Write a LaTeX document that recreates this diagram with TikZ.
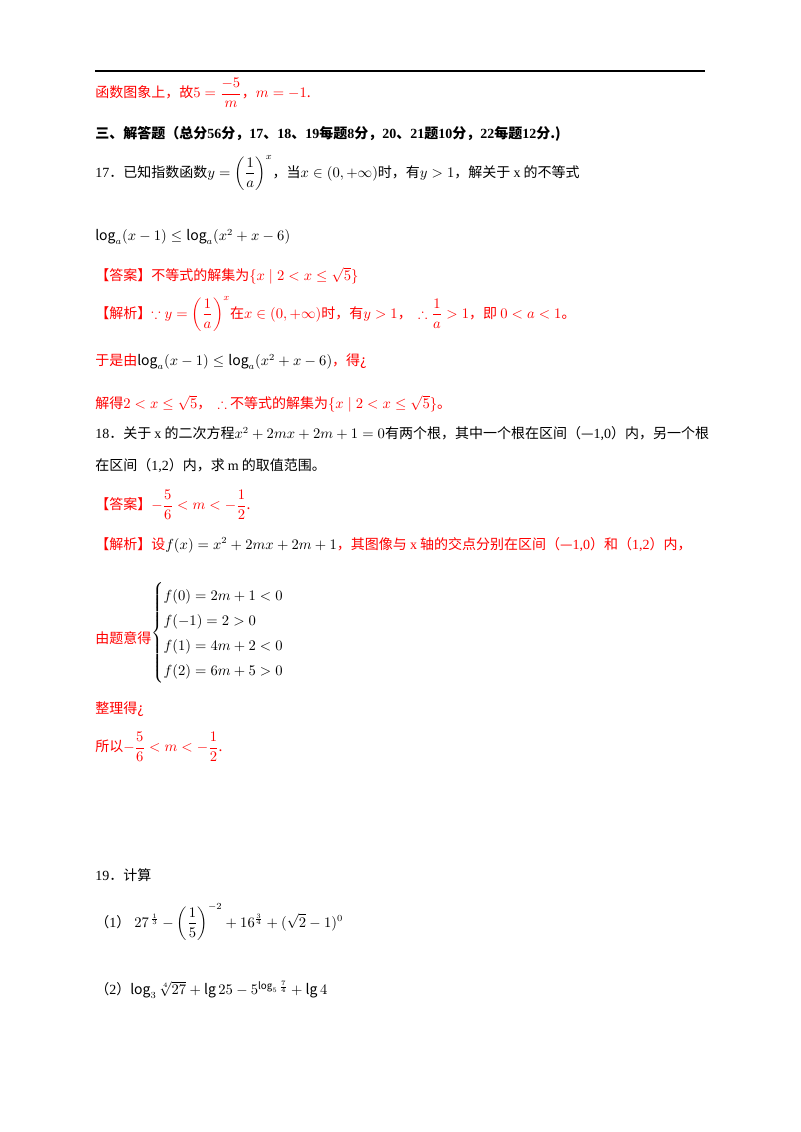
\documentclass[tikz,border=0pt]{standalone}
\usepackage{fontspec}
\usepackage{amsmath,amssymb}
\setmainfont{Noto Sans CJK SC}
\newfontfamily\serifnum{Liberation Serif}
\definecolor{ansred}{RGB}{255,0,0}
\begin{document}
\begin{tikzpicture}[x=0.75pt,y=-0.75pt,
  txt/.style={anchor=west,inner sep=0pt,font=\fontsize{10.5}{13}\selectfont},
  red/.style={txt,text=ansred}]
\useasboundingbox (0,0) rectangle (800,1132);
\draw[line width=1pt] (95,71) -- (705,71);
\node[red] (l1) at (95,93) {函数图象上，故$5=\dfrac{-5}{m}$，$m=-1$.};
\node[txt,font=\fontsize{10.5}{13}\selectfont\bfseries] (h3) at (95,134) {三、解答题（总分{\serifnum 56}分，{\serifnum 17}、{\serifnum 18}、{\serifnum 19}每题{\serifnum 8}分，{\serifnum 20}、{\serifnum 21}题{\serifnum 10}分，{\serifnum 22}每题{\serifnum 12}分.)};
\node[txt] (q17) at (95,173) {{\serifnum 17}．已知指数函数$y=\left(\dfrac{1}{a}\right)^{x}$，当$x\in(0,+\infty)$时，有$y>1$，解关于 {\serifnum x} 的不等式};
\node[txt] (q17b) at (95,237) {$\log_a(x-1)\le\log_a(x^2+x-6)$};
\node[red] (a17) at (95,276) {【答案】不等式的解集为$\{x\mid 2<x\le\sqrt5\}$};
\node[red] (j17) at (95,314) {【解析】$\because y=\left(\dfrac{1}{a}\right)^{x}$在$x\in(0,+\infty)$时，有$y>1$，\ \ $\therefore\dfrac{1}{a}>1$，即 $0<a<1$。};
\node[red] (j17b) at (95,362) {于是由\textcolor{black}{$\log_a(x-1)\le\log_a(x^2+x-6)$}，得¿};
\node[red] (j17c) at (95,404) {解得$2<x\le\sqrt5$，\ \ $\therefore$ 不等式的解集为$\{x\mid 2<x\le\sqrt5\}$。};
\node[txt] (q18) at (95,434) {{\serifnum 18}．关于 {\serifnum x} 的二次方程$x^2+2mx+2m+1=0$有两个根，其中一个根在区间（—{\serifnum 1,0}）内，另一个根};
\node[txt] (q18b) at (95,466) {在区间（{\serifnum 1,2}）内，求 {\serifnum m} 的取值范围。};
\node[red] (a18) at (95,505) {【答案】$-\dfrac{5}{6}<m<-\dfrac{1}{2}$.};
\node[red] (j18) at (95,545) {【解析】设\textcolor{black}{$f(x)=x^2+2mx+2m+1$}，其图像与 {\serifnum x} 轴的交点分别在区间（—{\serifnum 1,0}）和（{\serifnum 1,2}）内，};
\node[red] (j18b) at (95,638) {由题意得};
\node[txt,anchor=west] (sys) at (151,633) {\renewcommand{\arraystretch}{1.45}$\left\{\begin{array}{@{}l}f(0)=2m+1<0\\ f(-1)=2>0\\ f(1)=4m+2<0\\ f(2)=6m+5>0\end{array}\right.$};
\node[red] (j18c) at (95,709) {整理得¿};
\node[red] (j18d) at (95,747) {所以$-\dfrac{5}{6}<m<-\dfrac{1}{2}$.};
\node[txt] (q19) at (95,875) {{\serifnum 19}．计算};
\node[txt] (q19a) at (95,922) {（{\serifnum 1}）$\;27^{\,\frac{1}{3}}-\left(\dfrac{1}{5}\right)^{-2}+16^{\frac{3}{4}}+(\sqrt2-1)^0$};
\node[txt] (q19b) at (95,990) {（{\serifnum 2}）$\log_3\sqrt[4]{27}+\lg25-5^{\log_5\frac{7}{4}}+\lg4$};
\end{tikzpicture}
\end{document}
